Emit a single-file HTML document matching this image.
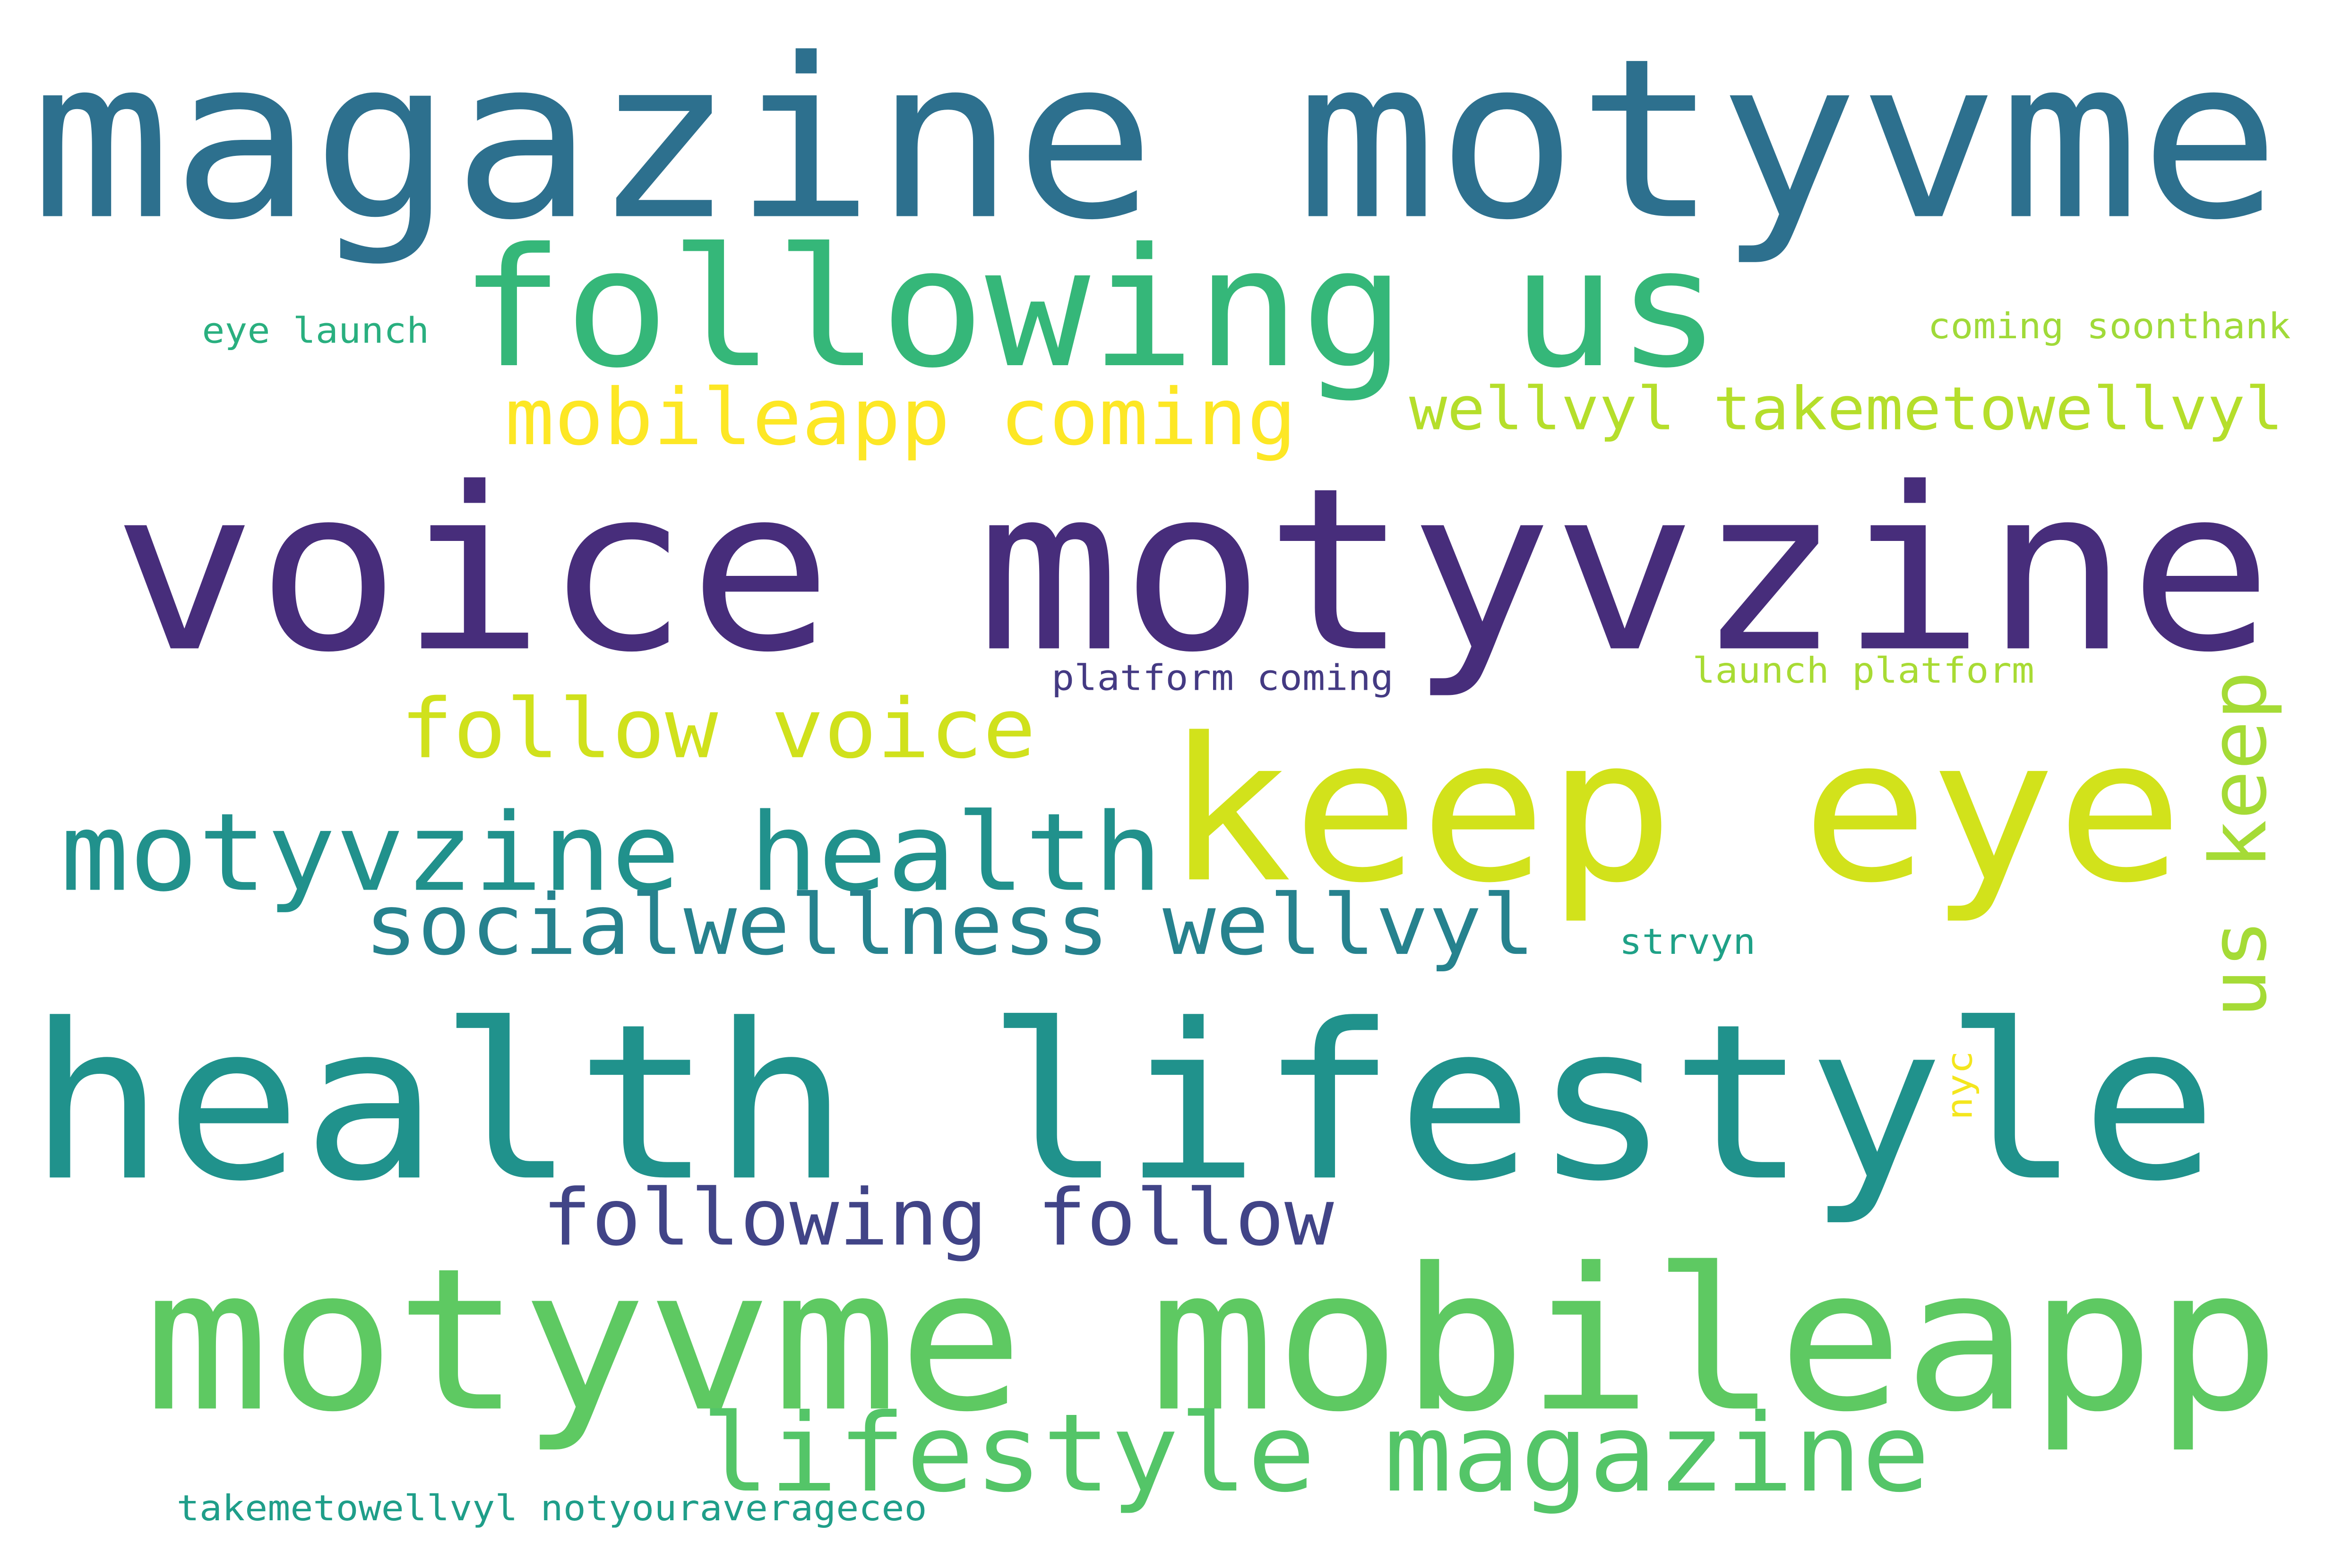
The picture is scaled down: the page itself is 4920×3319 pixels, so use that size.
<!DOCTYPE html>
<html><head><meta charset="utf-8"><style>
html,body{margin:0;padding:0;background:#fff;width:4920px;height:3319px;overflow:hidden}
svg{display:block}
text{font-family:"DejaVu Sans Mono","Liberation Mono",monospace;}
</style></head><body>
<svg width="4920" height="3319" viewBox="0 0 1560 1052" preserveAspectRatio="none" xmlns="http://www.w3.org/2000/svg">
<rect width="1560" height="1052" fill="#fff"/>
<g id="words"></g>
</svg>
<script>
const words = ["magazine motyvme","following us","eye launch","coming soonthank","mobileapp coming","wellvyl takemetowellvyl","voice motyvzine","platform coming","launch platform","follow voice","keep eye","us keep","motyvzine health","socialwellness wellvyl","strvyn","health lifestyle","nyc","following follow","motyvme mobileapp","lifestyle magazine","takemetowellvyl notyouraverageceo"];
const sizes = [156,116,25,25,55,42,159,25,25,58,140,55,76,59,25,152,25,55,139,76,25];
const colors = ["#2d708e","#35b779","#29af7f","#a0da39","#fde725","#b5de2b","#472d7b","#443a83","#a8db34","#d0e11c","#d2e21b","#a5db36","#21918c","#26828e","#1fa187","#20928c","#f4e61e","#414487","#5ec962","#54c568","#1f9e89"];
const xs = [30,315,137,1295,342,948,85,707,1137,272,790,1520,45,248,1088,28,1323,367,105,475,120];
const ys = [145,245,230,227,298,288,435,463,458,508,590,680,597,640,640,790,750,835,945,1000,1020];
const widths = [1500,840,151,242,528,584,1440,228,228,423,675,230,735,782,90,1460,45,528,1425,820,502];
const vertical = [0,0,0,0,0,0,0,0,0,0,0,1,0,0,0,0,1,0,0,0,0];
const g = document.getElementById('words');
words.forEach((w,i)=>{
  const fs = sizes[i]*0.95;
  const off = sizes[i]*0.06;
  const t = document.createElementNS('http://www.w3.org/2000/svg','text');
  
  
  t.setAttribute('font-size', fs);
  t.setAttribute('fill', colors[i]);
  t.setAttribute('textLength', widths[i] + off);
  t.setAttribute('lengthAdjust', 'spacingAndGlyphs');
  if (vertical[i]) {
    t.setAttribute('x', -off); t.setAttribute('y', 0);
    t.setAttribute('transform', 'translate(' + xs[i] + ',' + ys[i] + ') rotate(-90)');
  } else {
    t.setAttribute('x', xs[i] - off); t.setAttribute('y', ys[i]);
  }
  t.textContent = w;
  g.appendChild(t);
});
</script>
</body></html>
